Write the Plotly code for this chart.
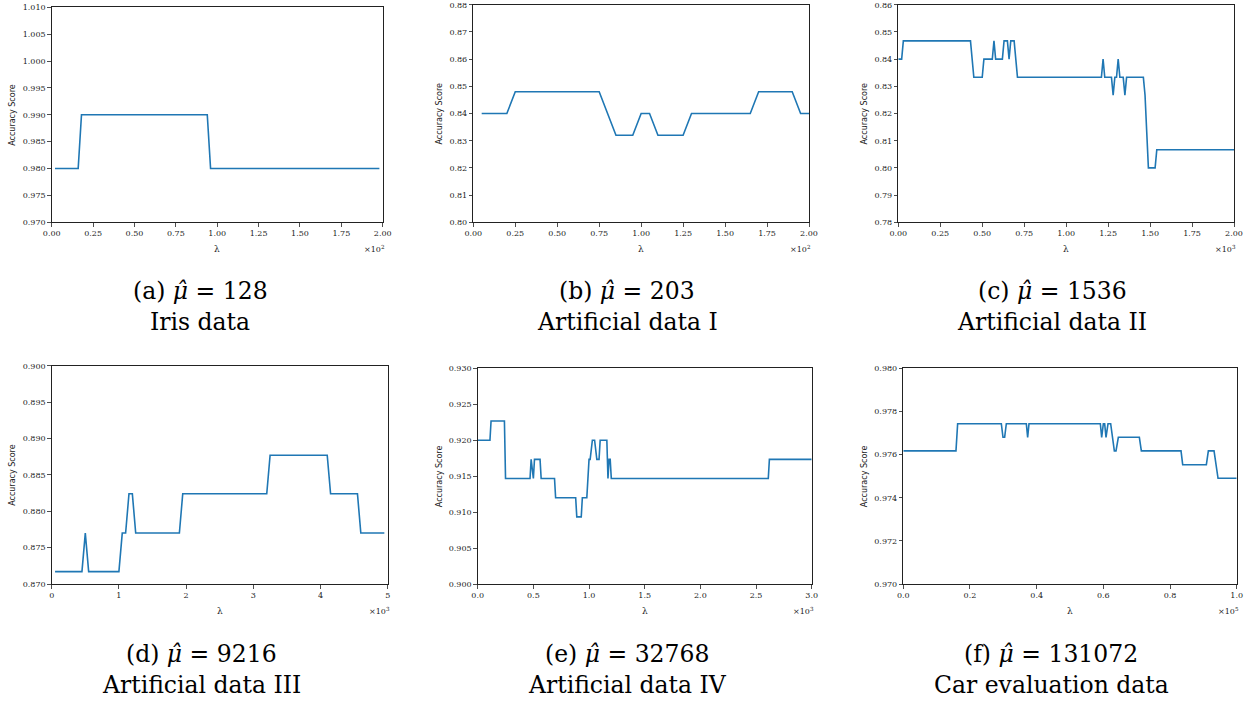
import plotly.graph_objects as go

W, H = 1256, 704

# ---------------- data ----------------
lam_a = [2, 16, 18, 94, 96, 198]
acc_a = [0.980, 0.980, 0.990, 0.990, 0.980, 0.980]

lam_b = [5, 20, 25, 75, 85, 95, 100, 105, 110, 125, 130, 165, 170, 190, 195, 200]
acc_b = [0.840, 0.840, 0.848, 0.848, 0.832, 0.832, 0.840, 0.840, 0.832, 0.832,
         0.840, 0.840, 0.848, 0.848, 0.840, 0.840]

lam_c = [0, 20, 30, 430, 440, 450, 500, 510, 560, 570, 580, 620, 630, 650, 660, 670,
         690, 700, 710, 1210, 1220, 1230, 1270, 1280, 1290, 1300, 1310, 1320, 1340,
         1350, 1360, 1460, 1470, 1480, 1490, 1530, 1540, 2000]
acc_c = [0.8400, 0.8400, 0.8467, 0.8467, 0.8400, 0.8333, 0.8333, 0.8400, 0.8400,
         0.8467, 0.8400, 0.8400, 0.8467, 0.8467, 0.8400, 0.8467, 0.8467, 0.8400,
         0.8333, 0.8333, 0.8400, 0.8333, 0.8333, 0.8267, 0.8333, 0.8333, 0.8400,
         0.8333, 0.8333, 0.8267, 0.8333, 0.8333, 0.8267, 0.8133, 0.8000, 0.8000,
         0.8067, 0.8067]

lam_d = [50, 450, 500, 550, 1000, 1050, 1100, 1150, 1200, 1250, 1900, 1950, 3200,
         3250, 4100, 4150, 4550, 4600, 4950]
acc_d = [0.8717, 0.8717, 0.8770, 0.8717, 0.8717, 0.8770, 0.8770, 0.8824, 0.8824,
         0.8770, 0.8770, 0.8824, 0.8824, 0.8877, 0.8877, 0.8824, 0.8824, 0.8770, 0.8770]

lam_e = [0, 110, 120, 240, 250, 470, 480, 500, 510, 560, 570, 690, 700, 880, 890, 930,
         940, 980, 1000, 1010, 1030, 1050, 1070, 1090, 1100, 1160, 1170, 1180, 1190,
         1200, 2610, 2620, 3000]
acc_e = [0.92000, 0.92000, 0.92267, 0.92267, 0.91467, 0.91467, 0.91733, 0.91467,
         0.91733, 0.91733, 0.91467, 0.91467, 0.91200, 0.91200, 0.90933, 0.90933,
         0.91200, 0.91200, 0.91733, 0.91733, 0.92000, 0.92000, 0.91733, 0.91733,
         0.92000, 0.92000, 0.91467, 0.91733, 0.91733, 0.91467, 0.91467, 0.91733, 0.91733]

lam_f = [0, 15800, 16300, 29400, 29900, 30400, 30900, 36900, 37300, 37700, 59100,
         59500, 60000, 60400, 60800, 61400, 62200, 63300, 63800, 64500, 70800, 71400,
         83300, 83800, 90900, 91500, 93200, 94400, 100000]
acc_f = [0.97617, 0.97617, 0.97743, 0.97743, 0.97680, 0.97680, 0.97743, 0.97743,
         0.97680, 0.97743, 0.97743, 0.97680, 0.97743, 0.97743, 0.97680, 0.97743,
         0.97743, 0.97617, 0.97617, 0.97680, 0.97680, 0.97617, 0.97617, 0.97553,
         0.97553, 0.97617, 0.97617, 0.97490, 0.97490]

captions_top = ["(a) <i>μ̂</i> = 128", "(b) <i>μ̂</i> = 203", "(c) <i>μ̂</i> = 1536",
                "(d) <i>μ̂</i> = 9216", "(e) <i>μ̂</i> = 32768", "(f) <i>μ̂</i> = 131072"]
captions_bottom = ["Iris data", "Artificial data I", "Artificial data II",
                   "Artificial data III", "Artificial data IV", "Car evaluation data"]

# y tick settings (range, step, decimals)
y_specs = [(0.970, 1.010, 0.005, 3), (0.80, 0.88, 0.01, 2), (0.78, 0.86, 0.01, 2),
           (0.870, 0.900, 0.005, 3), (0.900, 0.930, 0.005, 3), (0.970, 0.980, 0.002, 3)]
# x tick settings (max, step in display units, exponent, decimals)
x_specs = [(2.0, 0.25, 2, 2), (2.0, 0.25, 2, 2), (2.0, 0.25, 3, 2),
           (5.0, 1.0, 3, 0), (3.0, 0.5, 3, 1), (1.0, 0.2, 5, 1)]

series = [(lam_a, acc_a), (lam_b, acc_b), (lam_c, acc_c),
          (lam_d, acc_d), (lam_e, acc_e), (lam_f, acc_f)]

# ---------------- layout geometry (pixels) ----------------
boxes = [(51.7, 382.7, 7.3, 222.3), (473.3, 809.0, 4.7, 222.3), (898.3, 1234.0, 4.7, 222.3),
         (51.7, 387.7, 365.7, 584.0), (477.7, 811.7, 368.3, 584.0), (903.3, 1236.7, 368.3, 584.0)]
ylabel_x = [13, 439, 864, 13, 439, 864]
cap_x = [200, 627, 1052, 201, 627, 1051]

def px(x):
    return x / W

def py(y):
    return 1 - y / H

fig = go.Figure()
layout = dict(width=W, height=H, margin=dict(l=0, r=0, t=0, b=0, autoexpand=False),
              paper_bgcolor="white", plot_bgcolor="white", showlegend=False,
              template="none")
annotations = []
tick_font = dict(family="DejaVu Serif", size=8, color="#222222")

for i, ((xs, ys), box, (y0, y1, ystep, ydec), (xmax, xstep, xexp, xdec)) in enumerate(
        zip(series, boxes, y_specs, x_specs)):
    n = "" if i == 0 else str(i + 1)
    fig.add_trace(go.Scatter(x=xs, y=ys, mode="lines",
                             line=dict(color="#1f77b4", width=1.6),
                             xaxis="x" + n, yaxis="y" + n, hoverinfo="skip"))
    xl, xr, yt, yb = box
    scale = 10 ** xexp
    nxt = int(round(xmax / xstep))
    xvals = [k * xstep * scale for k in range(nxt + 1)]
    xtext = [f"{k * xstep:.{xdec}f}" for k in range(nxt + 1)]
    nyt = int(round((y1 - y0) / ystep))
    yvals = [y0 + k * ystep for k in range(nyt + 1)]
    ytext = [f"{v:.{ydec}f}" for v in yvals]
    axis_common = dict(showgrid=False, zeroline=False, showline=True, linecolor="#222222",
                       linewidth=1, mirror=True, ticks="outside", ticklen=3.5,
                       tickwidth=0.8, tickcolor="#222222", tickfont=tick_font,
                       tickmode="array", automargin=False)
    layout["xaxis" + n] = dict(axis_common, domain=[px(xl), px(xr)], range=[0, xmax * scale],
                               tickvals=xvals, ticktext=xtext, anchor="y" + n)
    layout["yaxis" + n] = dict(axis_common, domain=[py(yb), py(yt)], range=[y0, y1],
                               tickvals=yvals, ticktext=ytext, anchor="x" + n)
    # y label
    annotations.append(dict(text="Accuracy Score", x=px(ylabel_x[i]), y=py((yt + yb) / 2),
                            xref="paper", yref="paper", showarrow=False, textangle=-90,
                            font=dict(family="DejaVu Sans", size=8, color="#222222"),
                            xanchor="center", yanchor="middle"))
    # x label
    lab_y = yb + 27
    annotations.append(dict(text="λ", x=px((xl + xr) / 2), y=py(lab_y),
                            xref="paper", yref="paper", showarrow=False,
                            font=dict(family="DejaVu Serif", size=9, color="#222222"),
                            xanchor="center", yanchor="middle"))
    annotations.append(dict(text=f"×10<sup>{xexp}</sup>", x=px(xr + 4), y=py(lab_y),
                            xref="paper", yref="paper", showarrow=False,
                            font=dict(family="DejaVu Serif", size=8, color="#222222"),
                            xanchor="right", yanchor="middle"))
    # captions
    row_top = 291 if i < 3 else 654
    annotations.append(dict(text=captions_top[i], x=px(cap_x[i]), y=py(row_top),
                            xref="paper", yref="paper", showarrow=False,
                            font=dict(family="DejaVu Serif", size=23.5, color="black"),
                            xanchor="center", yanchor="middle"))
    annotations.append(dict(text=captions_bottom[i], x=px(cap_x[i]), y=py(row_top + 31),
                            xref="paper", yref="paper", showarrow=False,
                            font=dict(family="DejaVu Serif", size=23.5, color="black"),
                            xanchor="center", yanchor="middle"))

layout["annotations"] = annotations
fig.update_layout(**layout)
fig.write_html("out.html",
               config={"displayModeBar": False, "staticPlot": True},
               post_script="document.body.style.margin='0';"
                           "document.body.style.overflow='hidden';")
